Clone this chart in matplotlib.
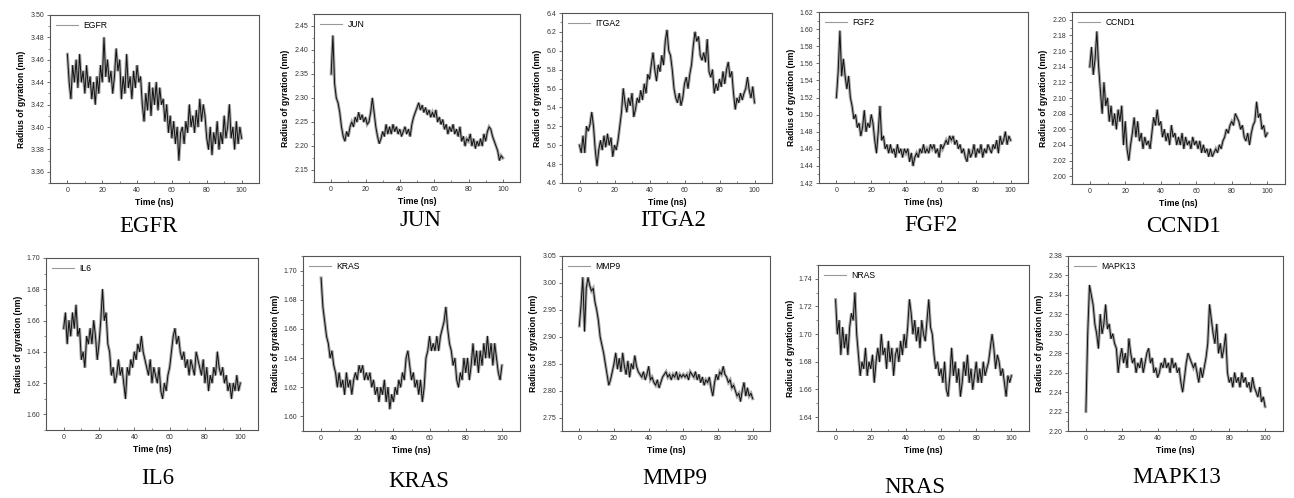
import numpy as np
import matplotlib.pyplot as plt
from matplotlib.lines import Line2D
from matplotlib.ticker import MultipleLocator, FormatStrFormatter

plt.rcParams['font.family'] = ['Liberation Sans', 'DejaVu Sans']

# time axis (ns), one reading per ns
time = np.arange(0, 101)

genes = ['EGFR', 'JUN', 'ITGA2', 'FGF2', 'CCND1', 'IL6', 'KRAS', 'MMP9', 'NRAS', 'MAPK13']

egfr = [3.465, 3.44, 3.425, 3.455, 3.44, 3.46, 3.435, 3.465, 3.44, 3.45,
        3.43, 3.455, 3.435, 3.445, 3.425, 3.44, 3.42, 3.445, 3.43, 3.455,
        3.44, 3.48, 3.445, 3.46, 3.44, 3.45, 3.43, 3.445, 3.47, 3.45,
        3.46, 3.425, 3.445, 3.43, 3.465, 3.435, 3.445, 3.425, 3.45, 3.435,
        3.455, 3.44, 3.445, 3.42, 3.405, 3.43, 3.415, 3.44, 3.41, 3.435,
        3.42, 3.44, 3.415, 3.435, 3.42, 3.425, 3.405, 3.42, 3.395, 3.41,
        3.39, 3.405, 3.385, 3.40, 3.37, 3.395, 3.40, 3.385, 3.405, 3.395,
        3.42, 3.40, 3.41, 3.395, 3.415, 3.40, 3.425, 3.405, 3.42, 3.41,
        3.39, 3.38, 3.40, 3.375, 3.395, 3.385, 3.405, 3.38, 3.395, 3.385,
        3.41, 3.39, 3.40, 3.42, 3.39, 3.40, 3.38, 3.405, 3.385, 3.40, 3.39]

jun = [2.35, 2.43, 2.33, 2.30, 2.29, 2.27, 2.24, 2.22, 2.21, 2.23,
       2.22, 2.24, 2.25, 2.24, 2.26, 2.25, 2.27, 2.255, 2.265, 2.25,
       2.26, 2.245, 2.25, 2.27, 2.30, 2.27, 2.24, 2.22, 2.205, 2.215,
       2.23, 2.22, 2.245, 2.225, 2.24, 2.225, 2.245, 2.23, 2.24, 2.225,
       2.235, 2.22, 2.23, 2.24, 2.225, 2.235, 2.22, 2.245, 2.26, 2.27,
       2.28, 2.29, 2.275, 2.285, 2.27, 2.28, 2.265, 2.275, 2.26, 2.27,
       2.26, 2.275, 2.25, 2.26, 2.245, 2.255, 2.235, 2.245, 2.225, 2.24,
       2.23, 2.245, 2.225, 2.235, 2.22, 2.24, 2.21, 2.22, 2.20, 2.215,
       2.21, 2.225, 2.20, 2.215, 2.195, 2.21, 2.20, 2.215, 2.20, 2.225,
       2.21, 2.23, 2.24, 2.235, 2.22, 2.21, 2.20, 2.19, 2.17, 2.18, 2.175]

itga2 = [5.0, 4.92, 5.1, 4.92, 5.2, 5.15, 5.22, 5.35, 5.2, 4.95,
         4.78, 4.95, 5.05, 4.95, 5.1, 4.98, 5.12, 5.0, 5.08, 4.88,
         5.0, 4.95, 5.05, 5.2, 5.35, 5.6, 5.45, 5.35, 5.5, 5.42,
         5.55, 5.3, 5.38, 5.5, 5.45, 5.58, 5.48, 5.65, 5.55, 5.75,
         5.7, 5.85, 5.98, 5.8, 5.68, 5.85, 5.78, 5.95, 5.85, 6.1,
         6.22, 6.0, 5.95, 5.8, 5.6, 5.5, 5.45, 5.55, 5.42, 5.5,
         5.65, 5.72, 5.6, 5.75, 5.85, 6.05, 6.2, 6.1, 6.15, 5.95,
         5.9, 5.98, 5.88, 6.12, 5.78, 5.72, 5.8, 5.55, 5.65, 5.58,
         5.7, 5.62, 5.78, 5.65, 5.8, 5.88, 5.72, 5.78, 5.55, 5.38,
         5.5, 5.45, 5.55, 5.48, 5.55, 5.6, 5.72, 5.58, 5.5, 5.62, 5.45]

fgf2 = [1.52, 1.55, 1.598, 1.545, 1.565, 1.545, 1.53, 1.545, 1.52, 1.51,
        1.495, 1.50, 1.485, 1.49, 1.475, 1.485, 1.505, 1.48, 1.49, 1.485,
        1.50, 1.49, 1.47, 1.455, 1.48, 1.51, 1.47, 1.475, 1.46, 1.465,
        1.455, 1.465, 1.455, 1.46, 1.45, 1.465, 1.455, 1.46, 1.45, 1.46,
        1.455, 1.46, 1.445, 1.455, 1.44, 1.45, 1.455, 1.45, 1.46, 1.455,
        1.465, 1.455, 1.46, 1.455, 1.465, 1.46, 1.465, 1.455, 1.46, 1.45,
        1.465, 1.46, 1.465, 1.47, 1.465, 1.475, 1.47, 1.475, 1.465, 1.47,
        1.46, 1.465, 1.455, 1.46, 1.45, 1.445, 1.46, 1.45, 1.455, 1.465,
        1.45, 1.46, 1.455, 1.465, 1.45, 1.46, 1.455, 1.465, 1.46, 1.455,
        1.465, 1.46, 1.47, 1.455, 1.475, 1.465, 1.47, 1.48, 1.465, 1.475, 1.47]

ccnd1 = [2.14, 2.165, 2.13, 2.15, 2.185, 2.14, 2.11, 2.08, 2.12, 2.09,
         2.10, 2.07, 2.09, 2.065, 2.08, 2.06, 2.085, 2.07, 2.09, 2.04,
         2.07, 2.035, 2.02, 2.04, 2.055, 2.075, 2.05, 2.07, 2.045, 2.055,
         2.035, 2.05, 2.04, 2.045, 2.035, 2.055, 2.075, 2.065, 2.085, 2.065,
         2.07, 2.05, 2.06, 2.045, 2.055, 2.04, 2.065, 2.05, 2.055, 2.04,
         2.05, 2.04, 2.055, 2.035, 2.05, 2.04, 2.045, 2.035, 2.05, 2.04,
         2.045, 2.035, 2.045, 2.03, 2.04, 2.03, 2.035, 2.025, 2.035, 2.025,
         2.03, 2.035, 2.03, 2.04, 2.035, 2.045, 2.05, 2.06, 2.055, 2.065,
         2.07, 2.065, 2.08, 2.075, 2.07, 2.06, 2.065, 2.05, 2.045, 2.055,
         2.04, 2.055, 2.065, 2.07, 2.095, 2.075, 2.08, 2.06, 2.065, 2.05, 2.055]

il6 = [1.655, 1.665, 1.645, 1.66, 1.65, 1.665, 1.655, 1.67, 1.65, 1.655,
       1.635, 1.64, 1.63, 1.65, 1.645, 1.655, 1.645, 1.66, 1.65, 1.635,
       1.645, 1.66, 1.68, 1.66, 1.665, 1.645, 1.64, 1.625, 1.63, 1.62,
       1.625, 1.635, 1.625, 1.63, 1.62, 1.61, 1.63, 1.625, 1.635, 1.63,
       1.64, 1.635, 1.645, 1.64, 1.65, 1.64, 1.635, 1.63, 1.625, 1.635,
       1.62, 1.63, 1.625, 1.62, 1.63, 1.615, 1.61, 1.62, 1.615, 1.625,
       1.63, 1.64, 1.65, 1.655, 1.645, 1.65, 1.64, 1.635, 1.64, 1.63,
       1.635, 1.625, 1.635, 1.63, 1.625, 1.64, 1.635, 1.63, 1.625, 1.635,
       1.62, 1.63, 1.615, 1.625, 1.62, 1.63, 1.625, 1.64, 1.63, 1.625,
       1.63, 1.62, 1.625, 1.615, 1.62, 1.61, 1.62, 1.615, 1.625, 1.615, 1.62]

kras = [1.695, 1.675, 1.665, 1.655, 1.65, 1.64, 1.645, 1.635, 1.63, 1.62,
        1.63, 1.62, 1.625, 1.615, 1.63, 1.62, 1.625, 1.615, 1.625, 1.63,
        1.625, 1.635, 1.63, 1.635, 1.625, 1.63, 1.625, 1.63, 1.62, 1.625,
        1.615, 1.62, 1.61, 1.62, 1.615, 1.625, 1.61, 1.62, 1.605, 1.615,
        1.61, 1.62, 1.615, 1.625, 1.62, 1.63, 1.625, 1.64, 1.645, 1.635,
        1.625, 1.63, 1.62, 1.625, 1.615, 1.625, 1.61, 1.62, 1.64, 1.645,
        1.655, 1.645, 1.65, 1.645, 1.655, 1.645, 1.655, 1.66, 1.665, 1.675,
        1.66, 1.65, 1.645, 1.635, 1.64, 1.625, 1.62, 1.63, 1.625, 1.64,
        1.63, 1.64, 1.625, 1.635, 1.65, 1.635, 1.645, 1.63, 1.645, 1.635,
        1.65, 1.64, 1.655, 1.64, 1.65, 1.635, 1.65, 1.64, 1.63, 1.625, 1.635]

mmp9 = [2.92, 2.96, 3.01, 2.91, 2.99, 3.01, 2.995, 2.985, 2.99, 2.965,
        2.95, 2.93, 2.90, 2.885, 2.87, 2.85, 2.83, 2.81, 2.82, 2.835,
        2.85, 2.87, 2.84, 2.86, 2.835, 2.87, 2.845, 2.83, 2.855, 2.825,
        2.85, 2.84, 2.865, 2.845, 2.835, 2.83, 2.825, 2.835, 2.82, 2.83,
        2.845, 2.82, 2.825, 2.815, 2.81, 2.82, 2.805, 2.815, 2.825, 2.83,
        2.835, 2.825, 2.83, 2.82, 2.83, 2.825, 2.835, 2.82, 2.83, 2.825,
        2.83, 2.825, 2.83, 2.82, 2.835, 2.83, 2.825, 2.835, 2.82, 2.83,
        2.815, 2.825, 2.81, 2.82, 2.815, 2.825, 2.805, 2.79, 2.815, 2.83,
        2.82, 2.835, 2.83, 2.845, 2.83, 2.825, 2.815, 2.82, 2.805, 2.81,
        2.80, 2.79, 2.795, 2.78, 2.80, 2.815, 2.79, 2.805, 2.79, 2.795, 2.785]

nras = [1.725, 1.70, 1.71, 1.685, 1.705, 1.69, 1.70, 1.685, 1.705, 1.715,
        1.71, 1.73, 1.70, 1.685, 1.67, 1.68, 1.675, 1.69, 1.67, 1.68,
        1.675, 1.685, 1.665, 1.68, 1.69, 1.68, 1.70, 1.685, 1.69, 1.675,
        1.695, 1.68, 1.69, 1.67, 1.685, 1.69, 1.68, 1.695, 1.685, 1.70,
        1.69, 1.705, 1.725, 1.715, 1.70, 1.71, 1.695, 1.705, 1.69, 1.71,
        1.70, 1.695, 1.71, 1.725, 1.705, 1.70, 1.685, 1.675, 1.68, 1.67,
        1.675, 1.665, 1.68, 1.66, 1.655, 1.67, 1.69, 1.67, 1.68, 1.665,
        1.675, 1.655, 1.665, 1.68, 1.67, 1.685, 1.665, 1.675, 1.66, 1.67,
        1.68, 1.665, 1.675, 1.665, 1.68, 1.67, 1.675, 1.68, 1.69, 1.70,
        1.69, 1.675, 1.685, 1.68, 1.67, 1.675, 1.665, 1.655, 1.67, 1.665, 1.67]

mapk13 = [2.22, 2.30, 2.35, 2.34, 2.33, 2.31, 2.30, 2.285, 2.32, 2.30,
          2.31, 2.33, 2.305, 2.31, 2.295, 2.30, 2.29, 2.285, 2.26, 2.275,
          2.285, 2.27, 2.28, 2.265, 2.295, 2.28, 2.27, 2.275, 2.26, 2.27,
          2.265, 2.275, 2.26, 2.27, 2.28, 2.285, 2.27, 2.275, 2.26, 2.265,
          2.255, 2.26, 2.27, 2.265, 2.275, 2.265, 2.27, 2.26, 2.275, 2.265,
          2.27, 2.26, 2.265, 2.25, 2.24, 2.255, 2.27, 2.28, 2.275, 2.27,
          2.265, 2.27, 2.26, 2.25, 2.265, 2.255, 2.265, 2.275, 2.29, 2.33,
          2.315, 2.30, 2.29, 2.31, 2.28, 2.29, 2.275, 2.285, 2.30, 2.26,
          2.25, 2.255, 2.245, 2.26, 2.25, 2.255, 2.245, 2.26, 2.25, 2.255,
          2.245, 2.25, 2.24, 2.255, 2.245, 2.24, 2.235, 2.245, 2.23, 2.235, 2.225]

series = [egfr, jun, itga2, fgf2, ccnd1, il6, kras, mmp9, nras, mapk13]

# y range, major step, tick format per panel
ylims = [(3.35, 3.50), (2.125, 2.475), (4.6, 6.4), (1.42, 1.62), (1.99, 2.21),
         (1.59, 1.70), (1.59, 1.71), (2.725, 3.05), (1.63, 1.75), (2.20, 2.38)]
ysteps = [0.02, 0.05, 0.2, 0.02, 0.02, 0.02, 0.02, 0.05, 0.02, 0.02]
yfmts = ['%.2f', '%.2f', '%.1f', '%.2f', '%.2f', '%.2f', '%.2f', '%.2f', '%.2f', '%.2f']

# axes boxes in pixels: left, top, right, bottom
boxes = [(50, 15, 259, 183), (314, 14, 520, 182), (562, 13, 772, 183),
         (819, 12, 1028, 183), (1072, 12, 1285, 184),
         (46, 258, 258, 430), (303, 256, 520, 431), (562, 256, 770, 431),
         (818, 265, 1029, 431), (1068, 256, 1283, 431)]
# gene caption: centre x and baseline y in pixels
captions = [(148, 232), (420, 226), (673, 226), (931, 231), (1183, 232),
            (158, 484), (419, 487), (675, 484), (915, 493), (1177, 483)]

W, H = 1294, 498
fig = plt.figure(figsize=(W / 100, H / 100), dpi=100)
spine_col = '#555555'

for i, gene in enumerate(genes):
    l, t, r, b = boxes[i]
    ax = fig.add_axes([l / W, 1 - b / H, (r - l) / W, (b - t) / H])
    ax.plot(time, series[i], color='#a8a8a8', lw=2.2, solid_joinstyle='miter')
    ax.plot(time, series[i], color='#111111', lw=0.7)
    ax.set_xlim(-10, 110)
    ax.set_ylim(*ylims[i])
    ax.xaxis.set_major_locator(MultipleLocator(20))
    ax.xaxis.set_minor_locator(MultipleLocator(10))
    ax.yaxis.set_major_locator(MultipleLocator(ysteps[i]))
    ax.yaxis.set_minor_locator(MultipleLocator(ysteps[i] / 2))
    ax.yaxis.set_major_formatter(FormatStrFormatter(yfmts[i]))
    ax.tick_params(axis='x', which='both', direction='in', labelsize=5,
                   color=spine_col, labelcolor='#333333', pad=3)
    ax.tick_params(axis='y', which='both', direction='out', labelsize=5,
                   color=spine_col, labelcolor='#333333', pad=1.5)
    ax.tick_params(which='major', length=2.5, width=0.6)
    ax.tick_params(which='minor', length=1.5, width=0.5)
    for s in ax.spines.values():
        s.set_color(spine_col)
        s.set_linewidth(0.8)
    ax.set_xlabel('Time (ns)', fontsize=6.2, fontweight='bold', labelpad=3)
    ax.set_ylabel('Radius of gyration (nm)', fontsize=6.2, fontweight='bold', labelpad=3)
    handle = Line2D([], [], color='#999999', lw=0.8)
    ax.legend([handle], [gene], loc='upper left', frameon=False, fontsize=6.2,
              handlelength=2.6, handletextpad=0.6, borderaxespad=0.3)
    cx, cy = captions[i]
    fig.text(cx / W, 1 - cy / H, gene, ha='center', va='baseline',
             fontsize=16.5, family=['Liberation Serif', 'DejaVu Serif'])

fig.savefig('out.png', dpi=100)
